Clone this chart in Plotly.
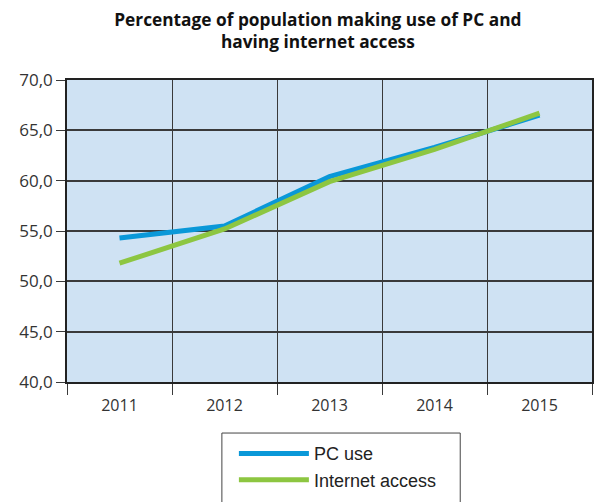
import plotly.graph_objects as go

# --- Data ---
years = ["2011", "2012", "2013", "2014", "2015"]
pc_use = [54.3, 55.5, 60.4, 63.3, 66.5]
internet_access = [51.8, 55.2, 59.9, 63.1, 66.7]

BG = "#cfe2f3"
GRID = "#3a3a3a"

fig = go.Figure()
fig.add_trace(go.Scatter(x=years, y=pc_use, name="PC use", mode="lines",
                         line=dict(color="#0a98d8", width=5)))
fig.add_trace(go.Scatter(x=years, y=internet_access, name="Internet access", mode="lines",
                         line=dict(color="#8dc641", width=5)))

fig.update_xaxes(type="category", range=[-0.5, 4.5], tickson="boundaries",
                 ticks="outside", ticklen=11, ticklabelstandoff=8,
                 tickcolor=GRID, showgrid=True, gridcolor=GRID, gridwidth=1,
                 showline=True, linecolor="#222", linewidth=1.5, mirror=True,
                 tickfont=dict(family="Open Sans", size=16, color="#333"))
fig.update_yaxes(range=[40, 70], dtick=5, tickformat=".1f", ticks="outside", ticklen=9,
                 tickcolor=GRID, showgrid=True, gridcolor=GRID, gridwidth=1.5,
                 showline=True, linecolor="#222", linewidth=1.5, mirror=True,
                 zeroline=False,
                 tickfont=dict(family="Open Sans", size=17, color="#333"))

# legend frame, wider than plotly's own legend box
fig.add_shape(type="rect", xref="paper", yref="paper",
              x0=0.295, x1=0.749, y0=-0.169, y1=-0.5,
              line=dict(color="#444", width=1), fillcolor="white", layer="below")

# the page body adds an 8px offset, margins account for it
fig.update_layout(
    width=604, height=502,
    separators=", ",
    plot_bgcolor=BG, paper_bgcolor="white",
    margin=dict(l=59, r=20, t=72, b=128, autoexpand=False),
    title=dict(text="<b>Percentage of population making use of PC and<br>having internet access</b>",
               xref="container", x=0.513, xanchor="center",
               yref="container", y=0.965, yanchor="middle",
               font=dict(family="Open Sans", size=17.3, color="#111")),
    showlegend=True,
    legend=dict(orientation="v", xref="container", x=0.374, xanchor="left",
                yref="container", y=0.149, yanchor="top",
                borderwidth=0, bgcolor="rgba(0,0,0,0)",
                font=dict(family="Liberation Sans", size=18, color="#222"),
                itemwidth=70, tracegroupgap=0),
)

fig.write_html("out.html")
